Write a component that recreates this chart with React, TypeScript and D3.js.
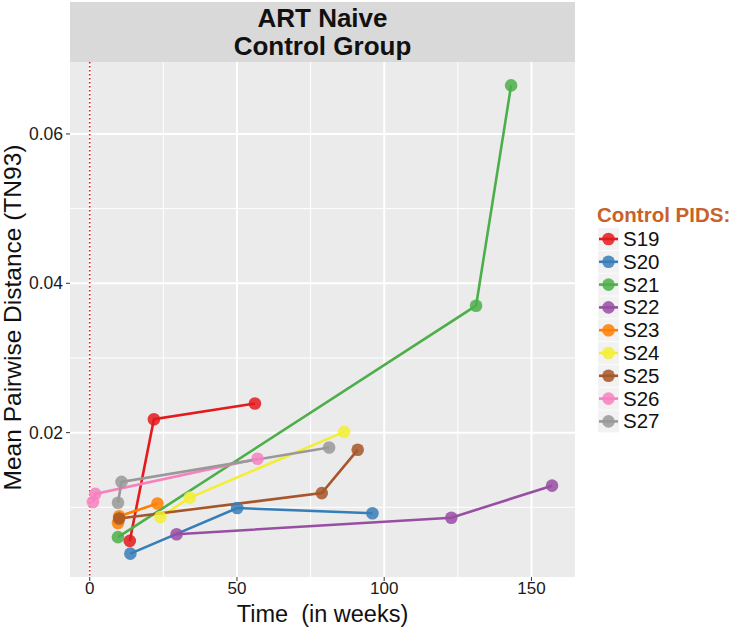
import React from 'react';
import * as d3 from 'd3';

// subject ids, in legend order
const pids = ['S19', 'S20', 'S21', 'S22', 'S23', 'S24', 'S25', 'S26', 'S27'];

// Set1 palette
const pidColors = ['#E41A1C', '#377EB8', '#4DAF4A', '#984EA3', '#FF7F00', '#F2EE35', '#A65628', '#F781BF', '#999999'];

// time in weeks / mean pairwise distance, one array per subject
const weeks = [
  [13.6, 21.8, 56.1],
  [13.8, 50.1, 96],
  [9.6, 131.2, 143.1],
  [29.5, 122.8, 157],
  [9.6, 10, 23],
  [24, 34, 86.4],
  [10, 78.8, 91],
  [1.1, 1.9, 57],
  [9.6, 10.8, 81.3],
];
const distances = [
  [0.0055, 0.0218, 0.0239],
  [0.0038, 0.0099, 0.0092],
  [0.006, 0.037, 0.0665],
  [0.0064, 0.0086, 0.0129],
  [0.0079, 0.0088, 0.0105],
  [0.0087, 0.0113, 0.0201],
  [0.0085, 0.0119, 0.0177],
  [0.0107, 0.0118, 0.0165],
  [0.0106, 0.0134, 0.018],
];

const xMajor = [0, 50, 100, 150];
const xMinor = [25, 75, 125];
const yMajor = [0.02, 0.04, 0.06];
const yMinor = [0.01, 0.03, 0.05];

const W = 733;
const H = 627;
const panel = { left: 70, right: 575, top: 62, bottom: 577 };
const font = '"Liberation Sans", Arial, Helvetica, sans-serif';

export default function App() {
  const allX = weeks.flat();
  const allY = distances.flat();
  const [x0, x1] = d3.extent(allX) as [number, number];
  const [y0, y1] = d3.extent(allY) as [number, number];
  const xPad = (x1 - x0) * 0.05;
  const yPad = (y1 - y0) * 0.05;

  const x = d3.scaleLinear().domain([x0 - xPad, x1 + xPad]).range([panel.left, panel.right]);
  const y = d3.scaleLinear().domain([y0 - yPad, y1 + yPad]).range([panel.bottom, panel.top]);

  const line = d3.line<[number, number]>().x(d => x(d[0])).y(d => y(d[1]));

  const series = pids.map((id, i) => ({
    id,
    color: pidColors[i],
    pts: weeks[i].map((w, j) => [w, distances[i][j]] as [number, number]),
  }));

  const midX = (panel.left + panel.right) / 2;
  const midY = (panel.top + panel.bottom) / 2;

  return (
    <svg width={W} height={H} style={{ position: 'absolute', left: 0, top: 0, background: '#fff' }} fontFamily={font}>
      {/* strip */}
      <rect x={panel.left} y={2} width={panel.right - panel.left} height={panel.top - 2} fill="#D9D9D9" />
      <text x={midX} y={27} textAnchor="middle" fontSize={26} fontWeight="bold" fill="#111">ART Naive</text>
      <text x={midX} y={55} textAnchor="middle" fontSize={26} fontWeight="bold" fill="#111">Control Group</text>

      {/* panel */}
      <rect x={panel.left} y={panel.top} width={panel.right - panel.left} height={panel.bottom - panel.top} fill="#EBEBEB" />
      {xMinor.map(v => (
        <line key={'xm' + v} x1={x(v)} x2={x(v)} y1={panel.top} y2={panel.bottom} stroke="#fff" strokeWidth={1} />
      ))}
      {yMinor.map(v => (
        <line key={'ym' + v} x1={panel.left} x2={panel.right} y1={y(v)} y2={y(v)} stroke="#fff" strokeWidth={1} />
      ))}
      {xMajor.map(v => (
        <line key={'xM' + v} x1={x(v)} x2={x(v)} y1={panel.top} y2={panel.bottom} stroke="#fff" strokeWidth={2} />
      ))}
      {yMajor.map(v => (
        <line key={'yM' + v} x1={panel.left} x2={panel.right} y1={y(v)} y2={y(v)} stroke="#fff" strokeWidth={2} />
      ))}

      {/* reference line at week 0 */}
      <line x1={x(0)} x2={x(0)} y1={panel.top} y2={panel.bottom} stroke="#E41A1C" strokeWidth={1.6} strokeDasharray="1.5 2.5" />

      {series.map(s => (
        <path key={'l' + s.id} d={line(s.pts) || ''} fill="none" stroke={s.color} strokeWidth={2.6} />
      ))}
      {series.map(s =>
        s.pts.map((p, j) => (
          <circle key={s.id + j} cx={x(p[0])} cy={y(p[1])} r={6.3} fill={s.color} fillOpacity={0.85} />
        ))
      )}

      {/* axes */}
      {xMajor.map(v => (
        <g key={'xt' + v}>
          <line x1={x(v)} x2={x(v)} y1={panel.bottom} y2={panel.bottom + 4} stroke="#333" />
          <text x={x(v)} y={594} textAnchor="middle" fontSize={17} fill="#1a1a1a">{v}</text>
        </g>
      ))}
      {yMajor.map(v => (
        <g key={'yt' + v}>
          <line x1={panel.left - 4} x2={panel.left} y1={y(v)} y2={y(v)} stroke="#333" />
          <text x={panel.left - 7} y={y(v) + 6} textAnchor="end" fontSize={17.5} fill="#1a1a1a">{v.toFixed(2)}</text>
        </g>
      ))}
      <text x={midX} y={622} textAnchor="middle" fontSize={23.5} fill="#111" style={{ whiteSpace: 'pre' }}>Time  (in weeks)</text>
      <text transform={`translate(21,${midY - 2}) rotate(-90)`} textAnchor="middle" fontSize={24.5} fill="#111">Mean Pairwise Distance (TN93)</text>

      {/* legend */}
      <text x={597} y={222} fontSize={20.5} fontWeight="bold" fill="#C8622A">Control PIDS:</text>
      {series.map((s, i) => {
        const cy = 239 + i * 22.8;
        return (
          <g key={'lg' + s.id}>
            <rect x={598} y={cy - 11} width={21} height={22} fill="#F2F2F2" />
            <line x1={599} x2={618} y1={cy} y2={cy} stroke={s.color} strokeWidth={2.6} />
            <circle cx={608.5} cy={cy} r={6.3} fill={s.color} fillOpacity={0.85} />
            <text x={623} y={cy + 7} fontSize={20.5} fill="#111">{s.id}</text>
          </g>
        );
      })}
    </svg>
  );
}
